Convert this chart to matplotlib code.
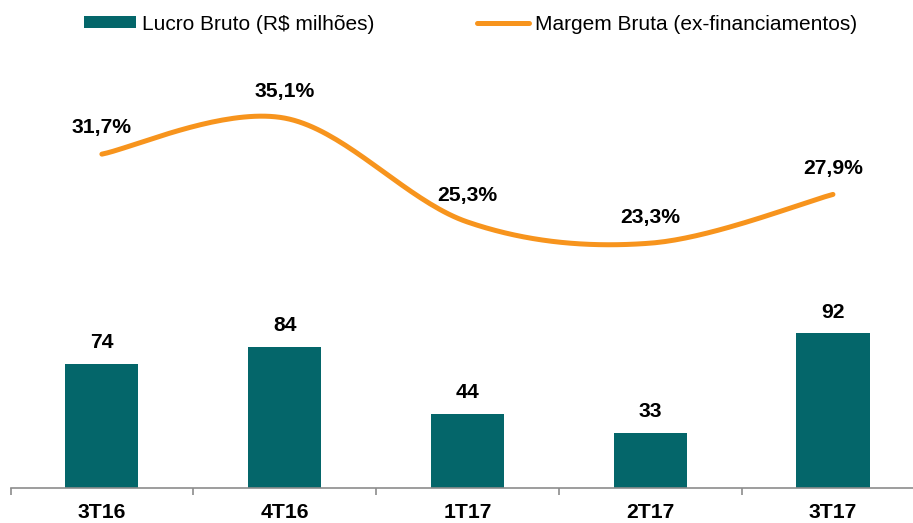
import matplotlib.pyplot as plt
from matplotlib.patches import Patch
from matplotlib.lines import Line2D
import numpy as np

plt.rcParams['font.family'] = ['Liberation Sans', 'DejaVu Sans']

quarters = ['3T16', '4T16', '1T17', '2T17', '3T17']
lucro = [74, 84, 44, 33, 92]
margem = [31.7, 35.1, 25.3, 23.3, 27.9]

teal = '#04666A'
orange = '#F7941D'


def smooth(xs, ys, n=40):
    # Catmull-Rom style smoothing, like a spreadsheet "smoothed line"
    px = np.concatenate([[xs[0]], xs, [xs[-1]]])
    py = np.concatenate([[ys[0]], ys, [ys[-1]]])
    out_x, out_y = [], []
    for i in range(1, len(px) - 2):
        p0, p1, p2, p3 = py[i - 1], py[i], py[i + 1], py[i + 2]
        q0, q1, q2, q3 = px[i - 1], px[i], px[i + 1], px[i + 2]
        t = np.linspace(0, 1, n)
        b0 = (1 - t) ** 3
        b1 = 3 * (1 - t) ** 2 * t
        b2 = 3 * (1 - t) * t ** 2
        b3 = t ** 3
        cy1, cy2 = p1 + (p2 - p0) / 6, p2 - (p3 - p1) / 6
        cx1, cx2 = q1 + (q2 - q0) / 6, q2 - (q3 - q1) / 6
        out_x.extend(b0 * q1 + b1 * cx1 + b2 * cx2 + b3 * q2)
        out_y.extend(b0 * p1 + b1 * cy1 + b2 * cy2 + b3 * p2)
    return np.array(out_x), np.array(out_y)


fig = plt.figure(figsize=(9.13, 5.23), dpi=100)
ax = fig.add_axes([10.5 / 913, 35 / 523, 1 - 10.5 / 913, 478 / 523])

x = np.arange(len(quarters))
ax.bar(x, lucro, width=0.4, color=teal, zorder=2)
for xi, v in zip(x, lucro):
    ax.annotate(str(v), (xi, v), xytext=(0, 8.4), textcoords='offset points',
                ha='center', va='bottom', fontsize=15.2, fontweight='bold')

ax.set_xlim(-0.5, 4.438)
ax.set_ylim(0, 284.5)
for s in ['top', 'left', 'right']:
    ax.spines[s].set_visible(False)
ax.spines['bottom'].set_color('#8c8c8c')
ax.spines['bottom'].set_linewidth(1.2)
ax.set_yticks([])
ax.set_xticks(np.arange(-0.5, 4.5, 1.0))
ax.set_xticklabels([])
ax.tick_params(axis='x', which='major', length=5, width=1.2, color='#8c8c8c')
ax.set_xticks(x, minor=True)
ax.set_xticklabels(quarters, minor=True, fontsize=15.2, fontweight='bold')
ax.tick_params(axis='x', which='minor', length=0, pad=11)

ax2 = ax.twinx()
ax2.set_ylim(0.2, 45.3)
ax2.axis('off')
sx, sy = smooth(x.astype(float), np.array(margem))
ax2.plot(sx, sy, color=orange, lw=3.6, solid_capstyle='round', zorder=3)
for xi, v in zip(x, margem):
    ax2.annotate(f'{v:.1f}%'.replace('.', ','), (xi, v), xytext=(0, 12),
                 textcoords='offset points', ha='center', va='bottom',
                 fontsize=15.2, fontweight='bold')

handles = [Patch(facecolor=teal, edgecolor='none'),
           Line2D([], [], color=orange, lw=3.6, solid_capstyle='round')]
fig.legend(handles, ['Lucro Bruto (R$ milhões)', 'Margem Bruta (ex-financiamentos)'],
           loc='center', bbox_to_anchor=(470.5 / 913, 1 - 24 / 523), ncol=2,
           frameon=False, fontsize=15, handlelength=2.5, handleheight=0.52,
           handletextpad=0.28, columnspacing=4.9, borderpad=0)

fig.savefig('out.png', dpi=100)
